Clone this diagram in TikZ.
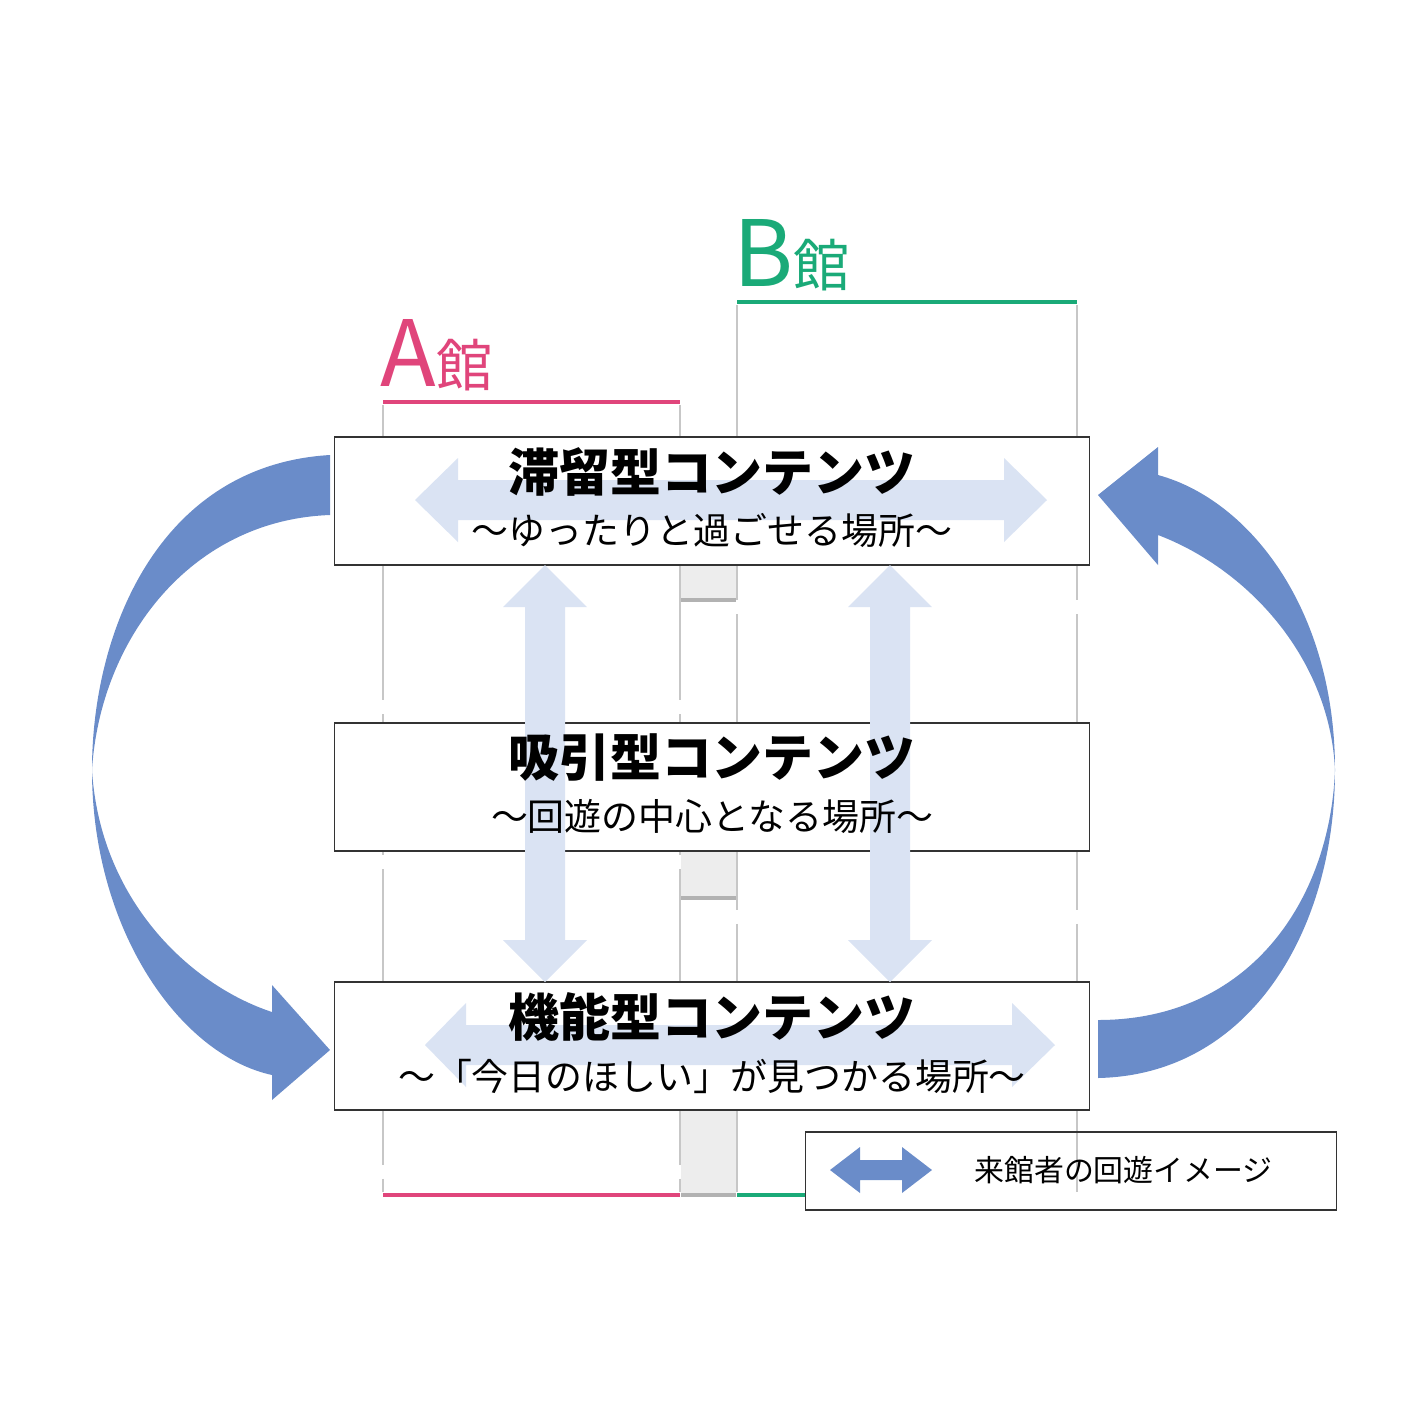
\documentclass[tikz,border=0pt]{standalone}
\usepackage{fontspec}
\setmainfont{Noto Sans CJK JP}
\newfontfamily\jpb{Noto Sans CJK JP}[FakeBold=0]
\begin{document}
\begin{tikzpicture}[x=0.01cm,y=-0.01cm,
  boxst/.style={draw=black!80,line width=0.5pt,fill=white,minimum width=755*0.01cm,minimum height=128*0.01cm,inner sep=0pt},
  vline/.style={draw=black!22,line width=0.8pt,dash pattern=on 40pt off 4pt},
  lite/.style={fill=blue!25!cyan!8!white,fill=lbl},
  big/.style={fill=bigc}]
\definecolor{lbl}{HTML}{DAE3F3}
\definecolor{bigc}{HTML}{6A8CC9}
\definecolor{pinkc}{HTML}{E0457B}
\definecolor{greenc}{HTML}{1AAA78}
\useasboundingbox (0,0) rectangle (1411,1411);
% labels
\node[text=pinkc,anchor=south west,inner sep=0pt,font=\fontsize{26}{26}\selectfont] (la) at (380,392) {A\fontsize{16}{16}\selectfont 館};
\node[text=greenc,anchor=south west,inner sep=0pt,font=\fontsize{26}{26}\selectfont] (lb) at (733,292) {B\fontsize{16}{16}\selectfont 館};
\draw[pinkc,line width=1pt] (383,402) -- (680,402);
\draw[greenc,line width=1pt] (737,302) -- (1077,302);
\draw[pinkc,line width=1pt] (383,1195) -- (680,1195);
\draw[greenc,line width=1pt] (737,1195) -- (806,1195);
\foreach \x/\y in {383/405,680/405,737/305,1077/305}
  \draw[vline] (\x,\y) -- (\x,1192);
\foreach \a/\b in {565/600,850/898,1110/1195}{
  \fill[black!7] (681,\a) rectangle (736,\b);
  \draw[black!30,line width=1pt] (681,\b) -- (736,\b);}
% boxes
\node[boxst] (b1) at (712,501) {};
\node[boxst] (b2) at (712,787) {};
\node[boxst] (b3) at (712,1046) {};
% light arrows
\fill[lbl] (415,500) -- (458,458) -- (458,480) -- (1004,480) -- (1004,458) -- (1047,500) -- (1004,542) -- (1004,520) -- (458,520) -- (458,542) -- cycle;
\fill[lbl] (425,1045) -- (466,1003) -- (466,1025) -- (1012,1025) -- (1012,1003) -- (1055,1045) -- (1012,1087) -- (1012,1065) -- (466,1065) -- (466,1087) -- cycle;
\foreach \x in {545,890}
 \fill[lbl] (\x,565) -- (\x+42,607) -- (\x+20,607) -- (\x+20,940) -- (\x+42,940) -- (\x,982) -- (\x-42,940) -- (\x-20,940) -- (\x-20,607) -- (\x-42,607) -- cycle;
% texts
\node[font=\fontsize{14.5}{16}\selectfont\bfseries] (t1) at (712,472) {滞留型コンテンツ};
\node[font=\fontsize{10.5}{12}\selectfont] (s1) at (712,530) {～ゆったりと過ごせる場所～};
\node[font=\fontsize{14.5}{16}\selectfont\bfseries] (t2) at (712,758) {吸引型コンテンツ};
\node[font=\fontsize{10.5}{12}\selectfont] (s2) at (712,816) {～回遊の中心となる場所～};
\node[font=\fontsize{14.5}{16}\selectfont\bfseries] (t3) at (712,1017) {機能型コンテンツ};
\node[font=\fontsize{10.5}{12}\selectfont] (s3) at (712,1076) {～「今日のほしい」が見つかる場所～};
% big arrows
\fill[bigc] (330,455) .. controls (160,465) and (92,630) .. (92,770)
  .. controls (92,930) and (180,1055) .. (272,1075) -- (272,1100) -- (330,1050) -- (272,985) -- (272,1012)
  .. controls (190,985) and (100,900) .. (92,770)
  .. controls (100,640) and (190,520) .. (330,515) -- cycle;
\fill[bigc] (1098,1078) .. controls (1250,1075) and (1335,930) .. (1335,770)
  .. controls (1335,610) and (1250,500) .. (1158,475) -- (1158,447) -- (1098,495) -- (1158,565) -- (1158,535)
  .. controls (1250,570) and (1330,660) .. (1335,770)
  .. controls (1330,900) and (1250,1020) .. (1098,1020) -- cycle;
% legend
\node[draw=black!80,line width=0.5pt,minimum width=531*0.01cm,minimum height=78*0.01cm,inner sep=0pt] (lg) at (1071,1171) {};
\fill[bigc] (830,1170) -- (860,1147) -- (860,1160) -- (902,1160) -- (902,1147) -- (932,1170) -- (902,1193) -- (902,1180) -- (860,1180) -- (860,1193) -- cycle;
\node[font=\fontsize{8.5}{10}\selectfont,anchor=west] (lt) at (962,1170) {来館者の回遊イメージ};
\end{tikzpicture}
\end{document}
